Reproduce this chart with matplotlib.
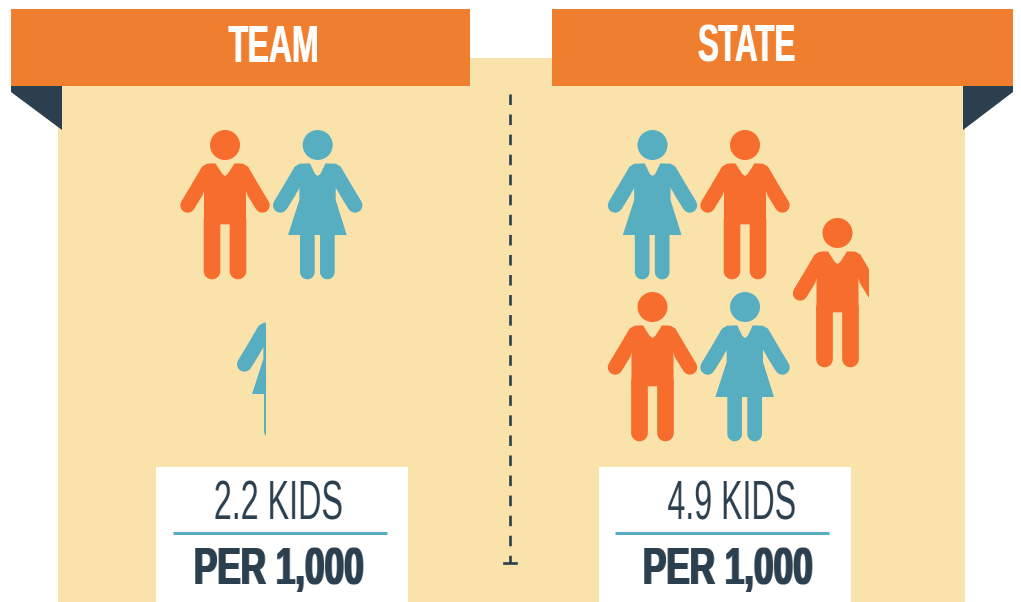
import matplotlib
matplotlib.use("Agg")
import matplotlib.pyplot as plt
from matplotlib.patches import Polygon, Circle, Rectangle
from matplotlib.colors import to_rgb
import numpy as np

# ---- data ----
panels = ["TEAM", "STATE"]
rates = [2.2, 4.9]
rate_labels = ["2.2 KIDS", "4.9 KIDS"]
per_label = "PER 1,000"
team_icons = ["man", "woman", "woman"]
state_icons = ["woman", "man", "man", "man", "woman"]
team_visible = [1, 1, 0.33]
state_visible = [1, 1, 0.855, 1, 1]

ORANGE_BANNER = "#EF7E2F"
ORANGE = "#F66D2E"
TEAL = "#57AEC1"
CREAM = "#F9E3AB"
NAVY = "#2B3F4E"
FONT = ["Liberation Sans", "DejaVu Sans"]

fig = plt.figure(figsize=(10.21, 6.02), dpi=100, facecolor="white")
ax = fig.add_axes([0, 0, 1, 1])
ax.set_xlim(0, 1021)
ax.set_ylim(602, 0)
ax.axis("off")


def condense(target_w, color, dilate=0):
    """Agg filter: narrows a drawn text horizontally to target_w px, thickening its stems."""
    rgb = np.array(to_rgb(color))

    def f(img, dpi):
        h, w = img.shape[:2]
        a = img[..., 3]
        cols = np.where(a.max(axis=0) > 0.05)[0]
        c0, c1 = (cols[0], cols[-1] + 1) if len(cols) else (0, w)
        s = max(target_w - dilate, 1) / (c1 - c0)
        pad = int(dilate) + 3
        nw = int(round(w * s)) + 2 * pad
        cum = np.hstack([np.zeros((h, 1)), np.cumsum(a, axis=1)])
        edges = np.clip((np.arange(nw + 1) - pad) / s, 0, w)
        i0 = np.floor(edges).astype(int).clip(0, w)
        fr = edges - i0
        i1 = (i0 + 1).clip(0, w)
        vals = cum[:, i0] * (1 - fr) + cum[:, i1] * fr
        out = (vals[:, 1:] - vals[:, :-1]) * s
        base = out.copy()
        for i in range(1, int(dilate) + 1):
            out = np.maximum(out, np.roll(base, i, axis=1))
        res = np.zeros((h, nw, 4))
        res[..., :3] = rgb
        res[..., 3] = out.clip(0, 1)
        ox = int(round((w - nw) / 2))
        return res, ox, 0

    return f


def capsule(p, q, r, n=16):
    p, q = np.array(p, float), np.array(q, float)
    d = q - p
    a = np.arctan2(d[1], d[0])
    t1 = np.linspace(a + np.pi / 2, a + 3 * np.pi / 2, n)
    t2 = np.linspace(a - np.pi / 2, a + np.pi / 2, n)
    return np.vstack([p + r * np.c_[np.cos(t1), np.sin(t1)],
                      q + r * np.c_[np.cos(t2), np.sin(t2)]])


def z(pts, cx):
    return [((x - cx) / 3, (y - 75) / 3) for x, y in pts]


def person(kind, x0, y0, color, visible=1.0):
    parts = []
    if kind == "man":
        c = 164
        torso = [(101, 150), (118, 131), (136, 131), (156, 162), (164, 168), (172, 162),
                 (192, 131), (210, 131), (227, 150), (227, 313), (101, 313)]
        caps = [((125, 300), (125, 453), 25), ((203, 300), (203, 453), 25)]
        arm = [(34, 244), (95, 140), (110, 131), (136, 131), (136, 150), (101, 213), (70, 268)]
    else:
        c = 443
        torso = [(388, 150), (405, 131), (420, 131), (435, 162), (443, 168), (451, 162),
                 (466, 131), (481, 131), (497, 150), (497, 240), (530, 345), (354, 345), (388, 240)]
        caps = [((412, 330), (412, 456), 22), ((472, 330), (472, 456), 22)]
        arm = [(313, 244), (374, 140), (389, 131), (420, 131), (420, 150), (388, 205), (349, 268)]
    hand_dx = 112
    caps = caps + [((c - hand_dx + 25, 216), (c - hand_dx, 256), 22),
                   ((c + hand_dx - 25, 216), (c + hand_dx, 256), 22)]
    parts.append(Polygon([(x0 + a, y0 + b) for a, b in z(torso, c)], closed=True))
    for sign in (1, -1):
        parts.append(Polygon([(x0 + sign * a, y0 + b) for a, b in z(arm, c)], closed=True))
    for p, q, r in caps:
        (px, py), (qx, qy) = z([p, q], c)
        parts.append(Polygon(capsule((x0 + px, y0 + py), (x0 + qx, y0 + qy), r / 3), closed=True))
    parts.append(Circle((x0, y0), 15))
    clip = Rectangle((x0 - 45, y0 - 20), 90 * visible, 180, transform=ax.transData)
    for pt in parts:
        pt.set(facecolor=color, edgecolor="none")
        ax.add_patch(pt)
        if visible < 1:
            pt.set_clip_path(clip)


def label(x, y, s, size, weight, color, width, dilate):
    t = ax.text(x, y, s, color=color, fontsize=size, fontweight=weight, family=FONT,
                ha="center", va="baseline")
    t.set_agg_filter(condense(width, color, dilate))


# background
ax.add_patch(Rectangle((58, 58), 907, 544, fc=CREAM, ec="none"))
# banners
for (x, w), name, tx, tw in zip([(11, 459), (552, 461)], panels, [273.7, 747], [89, 97]):
    ax.add_patch(Rectangle((x, 9), w, 77, fc=ORANGE_BANNER, ec="none"))
    label(tx, 62, name, 37.7, "bold", "white", tw, 1)
ax.add_patch(Polygon([(11, 86), (11, 92), (62, 130), (62, 86)], fc=NAVY, ec="none"))
ax.add_patch(Polygon([(1013, 86), (1013, 92), (963, 130), (963, 86)], fc=NAVY, ec="none"))

# icons
slots_team = [(225, 145), (317.7, 145), (281.7, 304)]
slots_state = [(652.5, 145), (745, 145), (837.5, 233), (652.5, 307), (745, 307)]
for kinds, vis, slots in [(team_icons, team_visible, slots_team), (state_icons, state_visible, slots_state)]:
    for k, v, (x, y) in zip(kinds, vis, slots):
        person(k, x, y, ORANGE if k == "man" else TEAL, v)

# divider
ax.plot([510, 510], [94, 563], color=NAVY, lw=1.9, dashes=(4.0, 3.6))
ax.plot([504, 516], [563, 563], color=NAVY, lw=1.9)

# boxes
for (x, w), (rx0, rx1), lab, tx, px in zip([(156, 252), (599, 252)], [(173.3, 386.6), (615, 829)],
                                           rate_labels, [278.5, 732.5], [278, 727]):
    ax.add_patch(Rectangle((x, 467), w, 135, fc="white", ec="none"))
    ax.plot([rx0, rx1], [533.3, 533.3], color=TEAL, lw=2.2, solid_capstyle="butt")
    label(tx, 520, lab, 39.8, "normal", NAVY, 127, 0)
    label(px, 584, per_label, 36.6, "bold", NAVY, 168.5, 2)

fig.savefig("out.png", dpi=100, facecolor="white")
